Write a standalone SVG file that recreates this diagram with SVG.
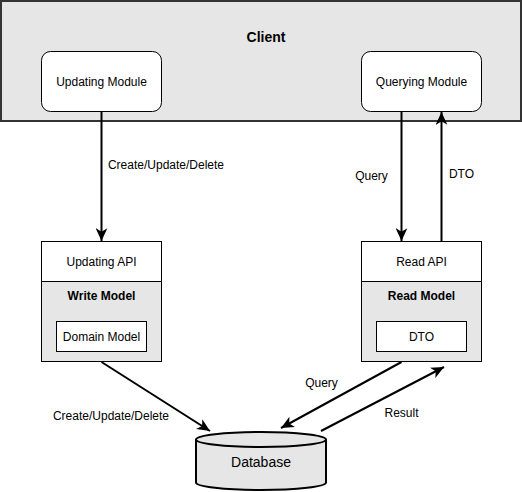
<svg xmlns="http://www.w3.org/2000/svg" width="522" height="492" viewBox="0 0 522 492">
<style>
text{font-family:"Liberation Sans",Arial,sans-serif;font-size:12px;fill:#000;text-anchor:middle}
.b{font-weight:bold}
.box{fill:#fff;stroke:#000;stroke-width:1}
.gray{fill:#e6e6e6;stroke:#000;stroke-width:1}
.edge{fill:none;stroke:#000;stroke-width:2}
</style>
<defs>
<marker id="arr" markerUnits="userSpaceOnUse" markerWidth="14" markerHeight="12" refX="11" refY="5" orient="auto" viewBox="0 0 12 10">
<path d="M0,0 L11,5 L0,10 L3,5 z" fill="#000"/>
</marker>
</defs>
<rect x="0" y="0" width="522" height="492" fill="#fff"/>
<g id="client">
<rect x="1" y="1" width="520" height="120" fill="#e6e6e6" stroke="#333" stroke-width="2"/>
<text x="266" y="42" class="b" style="font-size:14px">Client</text>
</g>
<g id="updating-module">
<rect x="41.5" y="51.5" width="120" height="60" rx="9" class="box"/>
<text x="101.5" y="85.5">Updating Module</text>
</g>
<g id="querying-module">
<rect x="361.5" y="51.5" width="120" height="60" rx="9" class="box"/>
<text x="421.5" y="85.5">Querying Module</text>
</g>
<g id="write-side">
<rect x="41.5" y="241.5" width="120" height="40" class="box"/>
<text x="101.5" y="265.5">Updating API</text>
<rect x="41.5" y="281.5" width="120" height="80" class="gray"/>
<text x="101.5" y="300" class="b">Write Model</text>
<rect x="56.5" y="321.5" width="90" height="30" class="box"/>
<text x="101.5" y="340.5">Domain Model</text>
</g>
<g id="read-side">
<rect x="361.5" y="241.5" width="120" height="40" class="box"/>
<text x="421.5" y="265.5">Read API</text>
<rect x="361.5" y="281.5" width="120" height="80" class="gray"/>
<text x="421.5" y="300" class="b">Read Model</text>
<rect x="376.5" y="321.5" width="90" height="30" class="box"/>
<text x="421.5" y="340.5">DTO</text>
</g>
<g id="database">
<path d="M196,439.5 A65,7.5 0 0 1 326,439.5 V482.5 A65,7.5 0 0 1 196,482.5 Z" fill="#e6e6e6" stroke="#000" stroke-width="2"/>
<path d="M196,439.5 A65,7.5 0 0 0 326,439.5" fill="none" stroke="#000" stroke-width="2"/>
<text x="261" y="467" style="font-size:14px">Database</text>
</g>
<g id="connectors">
<line x1="101.5" y1="112" x2="101.5" y2="241" class="edge" marker-end="url(#arr)"/>
<line x1="401.5" y1="112" x2="401.5" y2="241" class="edge" marker-end="url(#arr)"/>
<line x1="441.5" y1="241" x2="441.5" y2="112" class="edge" marker-end="url(#arr)"/>
<line x1="101.5" y1="362" x2="210" y2="431" class="edge" marker-end="url(#arr)"/>
<line x1="401.5" y1="362" x2="281" y2="428" class="edge" marker-end="url(#arr)"/>
<line x1="321" y1="431" x2="444" y2="367" class="edge" marker-end="url(#arr)"/>
<text x="166" y="169">Create/Update/Delete</text>
<text x="371.5" y="180">Query</text>
<text x="461.5" y="178">DTO</text>
<text x="111" y="419.5">Create/Update/Delete</text>
<text x="321.5" y="387">Query</text>
<text x="401.5" y="417">Result</text>
</g>
</svg>
